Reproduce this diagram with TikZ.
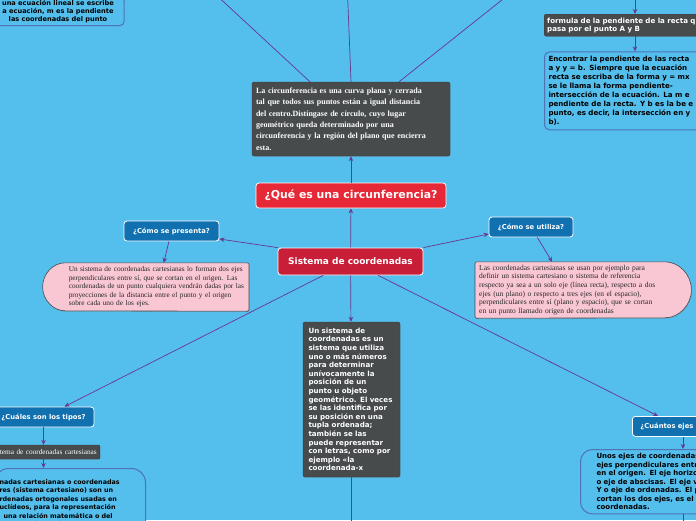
\documentclass[tikz,border=0pt]{standalone}
\usepackage{fontspec}
\newfontfamily\mapsans{DejaVu Sans}
\newfontfamily\mapserif{Liberation Serif}
\usetikzlibrary{arrows.meta,positioning,shadows,backgrounds}
\definecolor{mapbg}{RGB}{84,190,236}
\definecolor{mapgrey}{RGB}{71,75,76}
\definecolor{mapred}{RGB}{230,40,55}
\definecolor{mapcrimson}{RGB}{200,30,55}
\definecolor{mapblue}{RGB}{16,112,176}
\definecolor{mappink}{RGB}{249,199,212}
\definecolor{mapedge}{RGB}{80,115,180}
\definecolor{mapline}{RGB}{105,55,140}

\begin{document}
\begin{tikzpicture}[
    x=1pt, y=-1pt,
    >={Stealth[length=5pt,width=4.5pt]},
    link/.style={->, draw=mapline, line width=0.7pt},
    darkbox/.style={rectangle, rounded corners=2pt, fill=mapgrey, text=white,
        draw=mapgrey!80!black, line width=0.4pt,
        drop shadow={shadow xshift=0.6pt, shadow yshift=-0.8pt, opacity=0.3}},
    titlebox/.style={rectangle, rounded corners=3pt, draw=white, line width=0.8pt,
        text=white, font=\mapsans\bfseries},
    askbox/.style={rectangle, rounded corners=3pt, fill=mapblue, draw=white,
        line width=0.8pt, text=white, minimum height=20pt,
        font=\mapsans\bfseries\fontsize{6.8}{8}\selectfont},
    pinktext/.style={rectangle, text=black!85, align=left, inner xsep=3pt, inner ysep=3pt},
    pinkshape/.style={fill=mappink, draw=mapgrey, line width=0.6pt, rounded corners=1.5pt,
        drop shadow={shadow xshift=0.6pt, shadow yshift=-1pt, opacity=0.35}},
    notebox/.style={rectangle, fill=mapbg, draw=mapedge, line width=1pt,
        text=black, align=left, font=\mapsans\bfseries\fontsize{7.1}{8.5}\selectfont}
]
\useasboundingbox (0,0) rectangle (696,520);
\begin{scope}[on background layer]
\fill[mapbg] (0,0) rectangle (696,520);
\end{scope}
\clip (0,0) rectangle (696,520);

\node[notebox, anchor=south, align=center, rounded corners=4pt, minimum width=132pt,
      inner ysep=3pt, font=\mapsans\bfseries\fontsize{6.6}{8}\selectfont] (ecuacion) at (58,26)
    {una ecuación lineal se escribe\\a ecuación, m es la pendiente\\las coordenadas del punto};

\node[darkbox, anchor=north west, text width=200pt, align=left, inner xsep=3pt,
      inner ysep=3.5pt, font=\mapsans\bfseries\fontsize{7.1}{8}\selectfont] (formula) at (544,14)
    {formula de la pendiente de la recta que\\pasa por el punto A y B};
\node[notebox, below=15pt of formula.south west, anchor=north west, rounded corners=5pt,
      text width=200pt, inner xsep=4pt, inner ysep=4pt,
      font=\mapsans\bfseries\fontsize{7.1}{9.1}\selectfont] (pendiente)
    {Encontrar la pendiente de las recta\\a y y = b. Siempre que la ecuación\\recta se escriba de la forma y = mx\\se le llama la forma pendiente-\\intersección de la ecuación. La m e\\pendiente de la recta. Y b es la be e\\punto, es decir, la intersección en y\\b).};

\node[darkbox, text width=190pt, align=left, inner xsep=4pt, minimum height=74pt,
      font=\mapserif\bfseries\fontsize{8}{11.4}\selectfont] (desc) at (351,119)
    {La circunferencia es una curva plana y cerrada\\tal que todos sus puntos están a igual distancia\\del centro.Distíngase de círculo, cuyo lugar\\geométrico queda determinado por una\\circunferencia y la región del plano que encierra\\esta.};

\node[titlebox, fill=mapred, minimum width=190pt, minimum height=25pt,
      font=\mapsans\bfseries\fontsize{10.9}{12}\selectfont] (quees) at (351,195.5)
    {¿Qué es una circunferencia?};
\node[titlebox, fill=mapcrimson, minimum width=145pt, minimum height=27pt,
      font=\mapsans\bfseries\fontsize{9}{10}\selectfont] (sistema) at (350.5,261.5)
    {Sistema de coordenadas};

\node[askbox, minimum width=95pt] (presenta) at (171.5,231) {¿Cómo se presenta?};
\node[askbox, minimum width=84pt] (utiliza) at (531,227) {¿Cómo se utiliza?};

\node[pinktext, text width=178pt, inner xsep=2pt, minimum height=48pt, anchor=east,
      font=\mapserif\fontsize{7.3}{8.5}\selectfont] (pinkl) at (249,287)
    {Un sistema de coordenadas cartesianas lo forman dos ejes\\perpendiculares entre sí, que se cortan en el origen. Las\\coordenadas de un punto cualquiera vendrán dadas por las\\proyecciones de la distancia entre el punto y el origen\\sobre cada uno de los ejes.};
\node[pinktext, text width=180pt, inner xsep=4pt, minimum height=56pt, anchor=west,
      font=\mapserif\fontsize{7.5}{8.6}\selectfont] (pinkr) at (475,290)
    {Las coordenadas cartesianas se usan por ejemplo para\\definir un sistema cartesiano o sistema de referencia\\respecto ya sea a un solo eje (línea recta), respecto a dos\\ejes (un plano) o respecto a tres ejes (en el espacio),\\perpendiculares entre sí (plano y espacio), que se cortan\\en un punto llamado origen de coordenadas};
\begin{scope}[on background layer]
\draw[pinkshape] (pinkl.north east) -- (pinkl.north west)
    arc[start angle=90, end angle=270, radius=24pt] -- (pinkl.south east) -- cycle;
\draw[pinkshape] (pinkr.north west) -- (pinkr.north east)
    arc[start angle=90, end angle=-90, radius=28pt] -- (pinkr.south west) -- cycle;
\end{scope}

\node[darkbox, text width=86pt, align=left, inner xsep=5.5pt, minimum height=155pt,
      font=\mapsans\bfseries\fontsize{7.1}{8.6}\selectfont] (sistdef) at (351.5,399.5)
    {Un sistema de\\coordenadas es un\\sistema que utiliza\\uno o más números\\para determinar\\unívocamente la\\posición de un\\punto u objeto\\geométrico. El veces\\se las identifica por\\su posición en una\\tupla ordenada;\\también se las\\puede representar\\con letras, como por\\ejemplo «la\\coordenada-x};

\node[askbox, anchor=north west, text width=84pt, align=left, inner xsep=8pt] (cuantos) at (632,416)
    {¿Cuántos ejes};
\node[notebox, anchor=north west, rounded corners=12pt, text width=200pt,
      inner xsep=16pt, inner ysep=4pt, font=\mapsans\bfseries\fontsize{7}{8.5}\selectfont] (ejes) at (580,449)
    {Unos ejes de coordenadas\\ejes perpendiculares entr\\en el origen. El eje horizo\\o eje de abscisas. El eje v\\Y o eje de ordenadas. El p\\cortan los dos ejes, es el\\coordenadas.};

\node[askbox, minimum width=101pt] (tipos) at (43.5,417) {¿Cuáles son los tipos?};
\node[darkbox, rounded corners=1pt, anchor=east, minimum height=14pt, text width=105pt,
      align=right, inner xsep=3pt, inner ysep=1pt,
      font=\mapserif\fontsize{7.3}{8}\selectfont] (cartes) at (100,452)
    {tema de coordenadas cartesianas};
\node[notebox, anchor=north east, rounded corners=14pt, text width=141pt,
      inner xsep=5pt, inner ysep=3pt, minimum height=70pt,
      font=\mapsans\bfseries\fontsize{6.4}{8.5}\selectfont] (cartesdef) at (146,468)
    {nadas cartesianas o coordenadas\\res (sistema cartesiano) son un\\rdenadas ortogonales usadas en\\uclídeos, para la representación\\\hspace*{4pt}una relación matemática o del\\a o posición en física.};

\coordinate (upleft) at (200,-20);
\coordinate (upmid) at (347,-20);
\coordinate (upright) at (527,-20);
\coordinate (formtop) at (635,-20);
\coordinate (defdown) at (351.5,560);
\coordinate (ejesdown) at (683,560);

\draw[link] ([xshift=-41pt]desc.north) -- (upleft);
\draw[link] (desc.north) -- (upmid);
\draw[link] ([xshift=48pt]desc.north) -- (upright);
\draw[link] (formtop) -- (formtop |- formula.north);
\draw[link] (formtop |- formula.south) -- (formtop |- pendiente.north);
\draw[link] (quees) -- (desc);
\draw[link] (sistema) -- (quees);
\draw[link] (sistema.north west) -- ([yshift=-8pt]presenta.east);
\draw[link] (presenta) -- (pinkl);
\draw[link] (sistema.north east) -- ([yshift=-7pt]utiliza.west);
\draw[link] (utiliza) -- (pinkr);
\draw[link] (sistema) -- (sistdef);
\draw[link] (sistdef) -- (defdown);
\draw[link] (sistema) -- ([xshift=26pt]cuantos.north west);
\draw[link] (ejesdown |- cuantos.south) -- (ejesdown |- ejes.north);
\draw[link] (ejes.south -| ejesdown) -- (ejesdown);
\draw[link] (sistema) -- ([xshift=21pt]tipos.north);
\draw[link] (tipos.south) -- (tipos.south |- cartes.north);
\draw[link] (tipos.south |- cartes.south) -- (tipos.south |- cartesdef.north);
\end{tikzpicture}
\end{document}
